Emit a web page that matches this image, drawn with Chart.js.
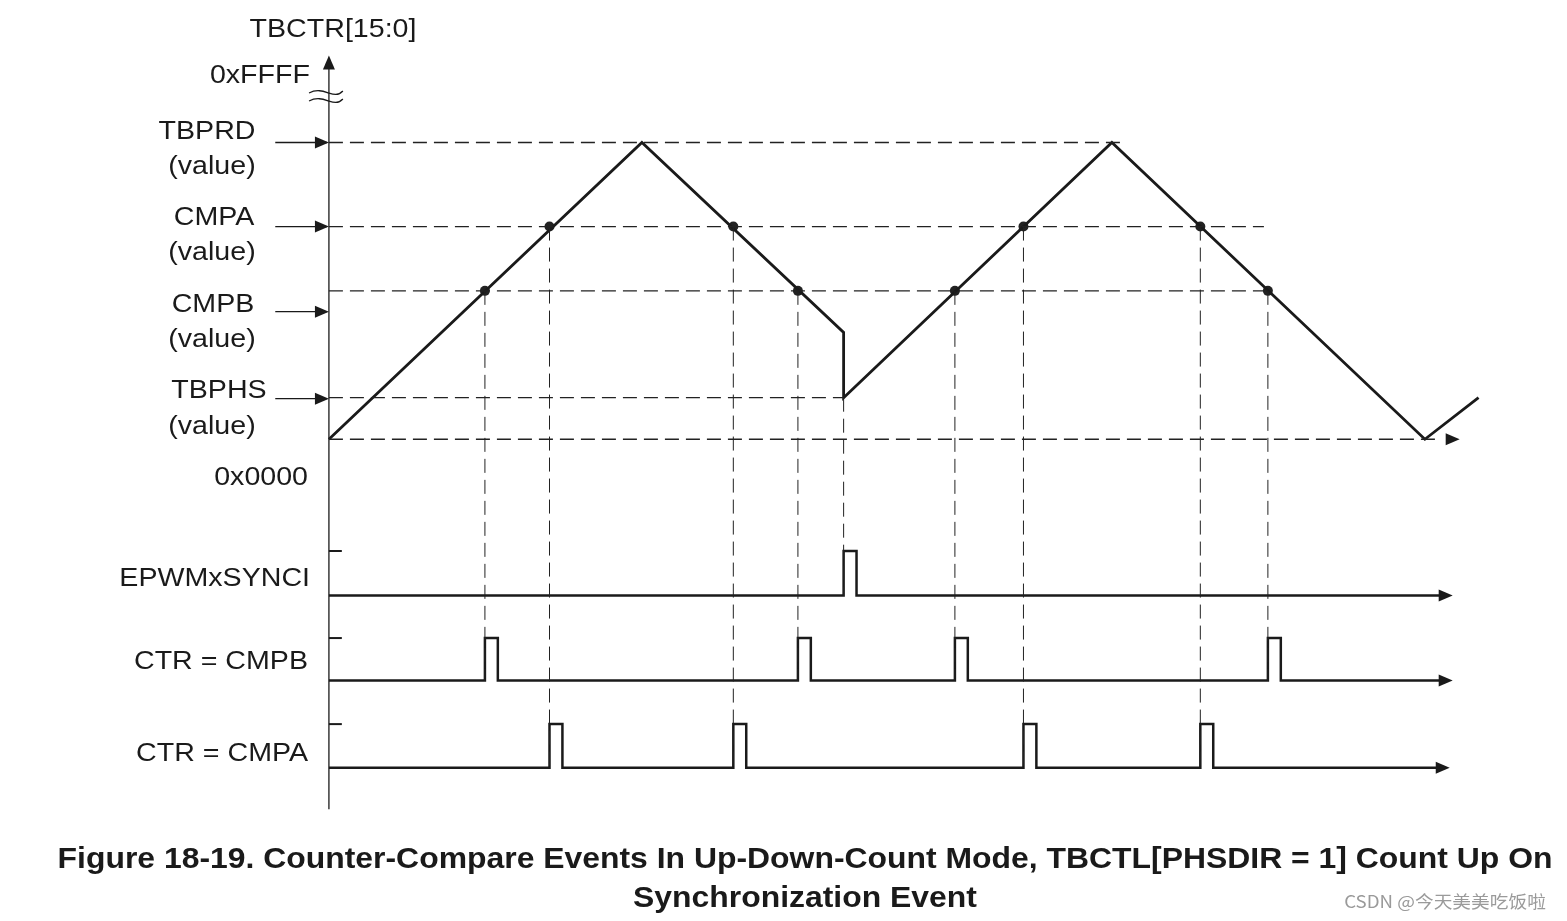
<!DOCTYPE html>
<html><head><meta charset="utf-8">
<script src="https://cdn.jsdelivr.net/npm/chart.js@4.4.1/dist/chart.umd.min.js"></script>
<style>html,body{margin:0;padding:0;background:#fff}#wrap{width:1567px;height:921px}</style>
</head><body><div id="wrap"><canvas id="c" width="1567" height="921"></canvas></div>
<script>
// counter waveform (time, count)
const ctrTime  = [0, 315, 518, 518, 788, 1103, 1157];
const ctrValue = [0, 300, 108, 42, 300, 0, 42];
// levels
const TBPRD = 300, CMPA = 215, CMPB = 150, TBPHS = 42;
// event times
const cmpbTimes = [157, 472, 630, 945];
const cmpaTimes = [222, 407, 699, 877];
const syncTimes = [518];
const pulseW = 13;
// digital traces: [base, high]
const syncLvl = [-158, -113], cmpbLvl = [-244, -201], cmpaLvl = [-332, -288];

const pulses=(times,lvl,end)=>{
  const pts=[{x:0,y:lvl[0]}];
  times.forEach(t=>{pts.push({x:t,y:lvl[0]},{x:t,y:lvl[1]},{x:t+pulseW,y:lvl[1]},{x:t+pulseW,y:lvl[0]});});
  pts.push({x:end,y:lvl[0]}); return pts;
};
const seg=(x0,y0,x1,y1)=>[{x:x0,y:y0},{x:x1,y:y1}];
const dash=(data,w)=>({data,borderColor:'#222',borderWidth:w||1.3,borderDash:[14,7],pointRadius:0,showLine:true,fill:false});
const solid=(data,w)=>({data,borderColor:'#1a1a1a',borderWidth:w||2.5,pointRadius:0,showLine:true,fill:false});

const ds=[];
ds.push(dash(seg(0,TBPRD,801,TBPRD)));
ds.push(dash(seg(0,CMPA,941,CMPA)));
ds.push(dash(seg(0,CMPB,946,CMPB)));
ds.push(dash(seg(0,TBPHS,518,TBPHS)));
ds.push(dash(seg(0,0,1120,0)));
cmpbTimes.forEach(t=>ds.push(dash(seg(t,CMPB,t,cmpbLvl[0]),1)));
cmpaTimes.forEach(t=>ds.push(dash(seg(t,CMPA,t,cmpaLvl[0]),1)));
syncTimes.forEach(t=>ds.push(dash(seg(t,TBPHS,t,syncLvl[0]),1)));
ds.push(solid(ctrTime.map((t,i)=>({x:t,y:ctrValue[i]})),2.8));
ds.push({data:cmpbTimes.map(t=>({x:t,y:CMPB})).concat(cmpaTimes.map(t=>({x:t,y:CMPA}))),
  showLine:false,pointRadius:5,pointBackgroundColor:'#222',pointBorderWidth:0});
ds.push(solid(pulses(syncTimes,syncLvl,1125)));
ds.push(solid(pulses(cmpbTimes,cmpbLvl,1125)));
ds.push(solid(pulses(cmpaTimes,cmpaLvl,1122)));
ds.push(solid(seg(0,-374,0,378),1.3));

const deco={id:'deco',afterDatasetsDraw(chart){
  const c=chart.ctx,X=v=>chart.scales.x.getPixelForValue(v),Y=v=>chart.scales.y.getPixelForValue(v);
  c.save();c.fillStyle='#1a1a1a';c.strokeStyle='#1a1a1a';
  const arrow=(px,py,dir)=>{c.beginPath();
    if(dir==='r'){c.moveTo(px,py);c.lineTo(px-14,py-6);c.lineTo(px-14,py+6);}
    else{c.moveTo(px,py);c.lineTo(px-6,py+14);c.lineTo(px+6,py+14);}
    c.closePath();c.fill();};
  arrow(X(0),Y(388),'u');
  arrow(X(1138),Y(0),'r');
  [syncLvl,cmpbLvl].forEach(l=>arrow(X(1131),Y(l[0]),'r'));arrow(X(1128),Y(cmpaLvl[0]),'r');
  // label pointers
  [[TBPRD],[CMPA],[CMPB-21],[TBPHS-1]].forEach(([v])=>{c.lineWidth=1.3;c.beginPath();c.moveTo(X(-54),Y(v));c.lineTo(X(-2),Y(v));c.stroke();arrow(X(0),Y(v),'r');});
  // tick marks at high levels
  [syncLvl,cmpbLvl,cmpaLvl].forEach(l=>{c.lineWidth=2;c.beginPath();c.moveTo(X(0),Y(l[1]));c.lineTo(X(13),Y(l[1]));c.stroke();});
  // break squiggle
  c.lineWidth=1.3;
  [0,8].forEach(o=>{c.beginPath();c.moveTo(X(-20),Y(350)+o);
    c.bezierCurveTo(X(-5),Y(350)+o-8,X(5),Y(350)+o+8,X(14),Y(350)+o-2);c.stroke();});
  c.textBaseline='middle';
  const sx=1.1;
  const t=(s,x,y,al)=>{c.save();c.translate(x,y);c.scale(sx,1);c.textAlign=al||'center';c.fillText(s,0,0);c.restore();};
  c.font='26px "Liberation Sans", Arial, sans-serif';
  t('TBCTR[15:0]',333,30);t('0xFFFF',310,76,'right');
  t('TBPRD',207,132);t('(value)',212,167);
  t('CMPA',214,218);t('(value)',212,253);
  t('CMPB',213,305);t('(value)',212,340);
  t('TBPHS',219,391);t('(value)',212,427);
  t('0x0000',308,478,'right');
  t('EPWMxSYNCI',310,579,'right');t('CTR = CMPB',308,662,'right');t('CTR = CMPA',308,754,'right');
  c.font='bold 29px "Liberation Sans", Arial, sans-serif';
  t('Figure 18-19. Counter-Compare Events In Up-Down-Count Mode, TBCTL[PHSDIR = 1] Count Up On',805,860);
  t('Synchronization Event',805,899);
  c.font='17px "Noto Sans CJK SC", sans-serif';c.fillStyle='#9a9a9a';
  t('CSDN @今天美美吃饭啦',1445,902);
  c.restore();}};

new Chart(document.getElementById('c'),{type:'scatter',data:{datasets:ds},plugins:[deco],
  options:{responsive:false,animation:false,events:[],layout:{padding:0},
    plugins:{legend:{display:false},tooltip:{enabled:false}},
    scales:{x:{type:'linear',min:-326,max:1241,display:false},y:{type:'linear',min:-482,max:439,display:false}}}});
</script></body></html>
